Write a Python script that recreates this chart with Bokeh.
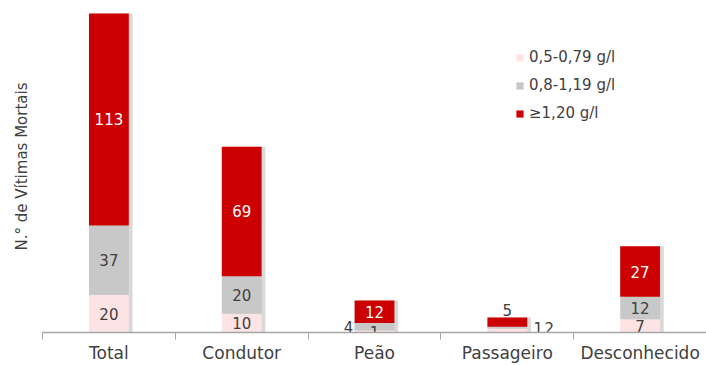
from bokeh.plotting import figure
from bokeh.models import ColumnDataSource, FixedTicker, Range1d
from bokeh.core.properties import value
from bokeh.transform import dodge
from bokeh.embed import file_html
from bokeh.resources import INLINE

# ---- data ----
categories = ["Total", "Condutor", "Peão", "Passageiro", "Desconhecido"]
bac_low = [20, 10, 1, 2, 7]       # 0,5-0,79 g/l
bac_mid = [37, 20, 4, 1, 12]      # 0,8-1,19 g/l
bac_high = [113, 69, 12, 5, 27]   # >=1,20 g/l
series_names = ["0,5-0,79 g/l", "0,8-1,19 g/l", "≥1,20 g/l"]
y_title = "N.° de Vítimas Mortais"

# ---- styles ----
colors = ["#FDE3E3", "#C8C8C8", "#CC0000"]
text_colors = ["#404040", "#404040", "#FFFFFF"]
FONT = "DejaVu Sans"
AXIS_COLOR = "#A6A6A6"

n = len(categories)
xs = [i + 0.5 for i in range(n)]
totals = [a + b + c for a, b, c in zip(bac_low, bac_mid, bac_high)]
src = ColumnDataSource(dict(x=xs, low=bac_low, mid=bac_mid, high=bac_high, total=totals))

p = figure(width=706, height=365, output_backend="svg", toolbar_location=None,
           x_range=Range1d(0, n), y_range=Range1d(0, 176.9),
           min_border_left=42, min_border_right=0, min_border_top=0, min_border_bottom=0)

# soft shadow to the right of each column
p.vbar(x=dodge("x", 0.028), top="total", bottom=0, width=0.3, source=src,
       fill_color="#808080", fill_alpha=0.3, line_color=None)

p.vbar_stack(["low", "mid", "high"], x="x", width=0.3, color=colors, source=src,
             legend_label=series_names, line_width=0)

# ---- value labels ----
series = [bac_low, bac_mid, bac_high]
# label nudges (pixels) for segments too thin to hold their number
nudges = {("Peão", 1): (-26, 0), ("Passageiro", 0): (42, -3),
          ("Passageiro", 1): (31, 0), ("Passageiro", 2): (0, -12)}
lx, ly, lt, lc, ldx, ldy = [], [], [], [], [], []
for i, cat in enumerate(categories):
    cum = 0
    for s, vals in enumerate(series):
        v = vals[i]
        lx.append(xs[i])
        ly.append(cum + v / 2)
        lt.append(str(v))
        dx, dy = nudges.get((cat, s), (0, 0))
        ldx.append(dx)
        ldy.append(dy)
        lc.append("#404040" if (dx or dy) else text_colors[s])
        cum += v
lsrc = ColumnDataSource(dict(x=lx, y=ly, text=lt, color=lc, dx=ldx, dy=ldy))
p.text(x="x", y="y", text="text", source=lsrc, text_align="center", text_baseline="middle",
       text_font=value(FONT), text_font_size="15px", text_color="color",
       x_offset="dx", y_offset="dy")

# ---- axes ----
xa = p.xaxis[0]
xa.ticker = FixedTicker(ticks=xs, minor_ticks=list(range(n + 1)))
xa.major_label_overrides = {x: c for x, c in zip(xs, categories)}
xa.major_tick_line_color = None
xa.major_tick_out = 0
xa.major_tick_in = 0
xa.minor_tick_out = 7
xa.minor_tick_in = 0
xa.minor_tick_line_color = AXIS_COLOR
xa.axis_line_color = AXIS_COLOR
xa.axis_line_width = 1.5
xa.major_label_text_font = FONT
xa.major_label_text_font_size = "17px"
xa.major_label_text_color = "#404040"
xa.major_label_standoff = 3

ya = p.yaxis[0]
ya.ticker = FixedTicker(ticks=[])
ya.major_label_standoff = 0
ya.major_tick_out = 0
ya.major_tick_in = 0
ya.minor_tick_out = 0
ya.minor_tick_in = 0
ya.axis_line_color = None
ya.major_tick_line_color = None
ya.minor_tick_line_color = None
ya.axis_label = y_title
ya.axis_label_text_font = FONT
ya.axis_label_text_font_size = "15px"
ya.axis_label_text_font_style = "normal"
ya.axis_label_text_color = "#404040"
ya.axis_label_standoff = 12

p.grid.visible = False
p.outline_line_color = None

# ---- legend ----
lg = p.legend[0]
lg.location = (473, 210)
lg.label_text_font = FONT
lg.label_text_font_size = "15px"
lg.label_text_color = "#404040"
lg.glyph_width = 9
lg.glyph_height = 9
lg.label_standoff = 5
lg.spacing = 10
lg.padding = 0
lg.margin = 0
lg.border_line_color = None
lg.background_fill_alpha = 0

open("out.html", "w").write(file_html(p, INLINE))
